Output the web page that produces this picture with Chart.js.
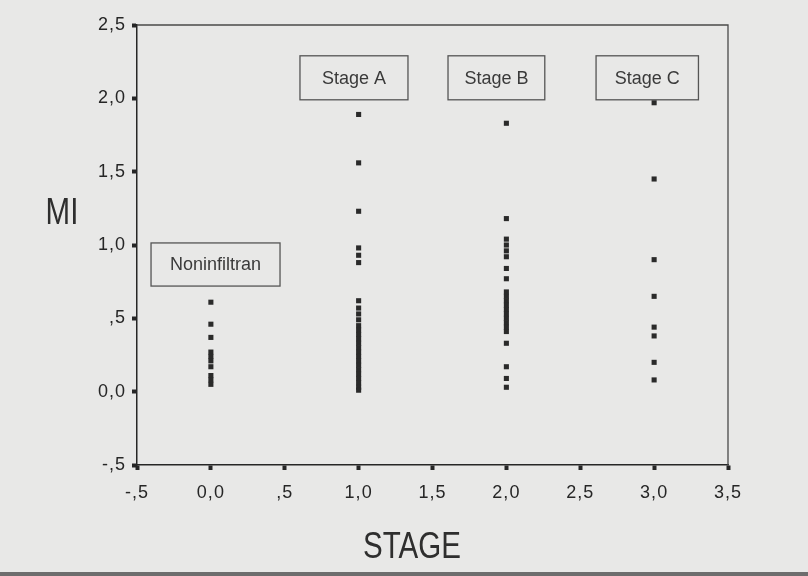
<!DOCTYPE html>
<html>
<head>
<meta charset="utf-8">
<script src="https://cdn.jsdelivr.net/npm/chart.js@4.4.1/dist/chart.umd.min.js"></script>
<style>
  html, body { margin: 0; padding: 0; background: #e8e8e7; }
  #wrap { position: relative; width: 808px; height: 576px; overflow: hidden; }
  #edge { position: absolute; left: 0; right: 0; bottom: 0; height: 4px; background: #6d6d6d; }
</style>
</head>
<body>
<div id="wrap">
<canvas id="c" width="808" height="576"></canvas>
<div id="edge"></div>
</div>
<script>
// ---- data ----
const stageNames = ['Noninfiltran', 'Stage A', 'Stage B', 'Stage C'];
const stageX = [0, 1, 2, 3];
const miNoninfiltran = [0.61, 0.46, 0.37, 0.27, 0.24, 0.21, 0.17, 0.11, 0.08, 0.05];
const miStageA = [1.89, 1.56, 1.23, 0.98, 0.93, 0.88, 0.62, 0.57, 0.53, 0.49, 0.45, 0.42, 0.39,
                  0.36, 0.33, 0.30, 0.27, 0.24, 0.21, 0.18, 0.15, 0.12, 0.09, 0.06, 0.03, 0.01];
const miStageB = [1.83, 1.18, 1.04, 1.00, 0.96, 0.92, 0.84, 0.77, 0.68, 0.65, 0.62, 0.59, 0.56,
                  0.53, 0.50, 0.47, 0.44, 0.41, 0.33, 0.17, 0.09, 0.03];
const miStageC = [1.97, 1.45, 0.90, 0.65, 0.44, 0.38, 0.20, 0.08];
const xTickLabels = ['-,5', '0,0', ',5', '1,0', '1,5', '2,0', '2,5', '3,0', '3,5'];
const yTickLabels = ['-,5', '0,0', ',5', '1,0', '1,5', '2,0', '2,5'];
const xTitle = 'STAGE';
const yTitle = 'MI';

// label boxes (data coordinates: x1, x2, yTop, yBottom)
const labelBoxes = [
  { text: stageNames[0], x1: -0.405, x2: 0.468, y1: 1.014, y2: 0.72 },
  { text: stageNames[1], x1: 0.603, x2: 1.334, y1: 2.29, y2: 1.99 },
  { text: stageNames[2], x1: 1.605, x2: 2.26, y1: 2.29, y2: 1.99 },
  { text: stageNames[3], x1: 2.607, x2: 3.30, y1: 2.29, y2: 1.99 }
];

const seriesValues = [miNoninfiltran, miStageA, miStageB, miStageC];
const points = [];
seriesValues.forEach((vals, i) => vals.forEach(v => points.push({ x: stageX[i], y: v })));

const ink = '#262626';
const tickFont = { family: "'Liberation Sans', Arial, sans-serif", size: 18 };

function narrowText(ctx, text, x, y, sx) {
  ctx.save();
  ctx.translate(x, y);
  ctx.scale(sx, 1);
  ctx.fillText(text, 0, 0);
  ctx.restore();
}

const decor = {
  id: 'decor',
  beforeDraw(chart) {
    const ctx = chart.ctx;
    ctx.save();
    ctx.fillStyle = '#e8e8e7';
    ctx.fillRect(0, 0, chart.width, chart.height);
    ctx.restore();
    if ('letterSpacing' in ctx) ctx.letterSpacing = '1px';
  },
  afterDraw(chart) {
    const ctx = chart.ctx;
    if ('letterSpacing' in ctx) ctx.letterSpacing = '0px';
    const xs = chart.scales.x, ys = chart.scales.y;
    const a = chart.chartArea;
    ctx.save();
    // frame top/right
    ctx.strokeStyle = '#4a4a4a';
    ctx.lineWidth = 1.3;
    ctx.beginPath();
    ctx.moveTo(a.left, a.top); ctx.lineTo(a.right, a.top); ctx.lineTo(a.right, a.bottom);
    ctx.stroke();
    // label boxes
    ctx.font = "18px 'Liberation Sans', Arial, sans-serif";
    ctx.textAlign = 'center';
    ctx.textBaseline = 'middle';
    labelBoxes.forEach(b => {
      const x1 = xs.getPixelForValue(b.x1), x2 = xs.getPixelForValue(b.x2);
      const y1 = ys.getPixelForValue(b.y1), y2 = ys.getPixelForValue(b.y2);
      ctx.strokeStyle = '#555';
      ctx.lineWidth = 1.3;
      ctx.strokeRect(x1, y1, x2 - x1, y2 - y1);
      ctx.fillStyle = '#3a3a3a';
      ctx.fillText(b.text, (x1 + x2) / 2, (y1 + y2) / 2 + 1);
    });
    // axis titles (condensed look)
    ctx.fillStyle = '#2e2e2e';
    ctx.font = "36px 'Liberation Sans', Arial, sans-serif";
    narrowText(ctx, yTitle, 62, 214, 0.82);
    narrowText(ctx, xTitle, 412, 548, 0.82);
    ctx.restore();
  }
};

new Chart(document.getElementById('c'), {
  type: 'scatter',
  data: {
    datasets: [{
      data: points,
      pointStyle: 'rect',
      pointRadius: 3.6,
      pointHoverRadius: 3.6,
      backgroundColor: '#2a2a2a',
      borderColor: '#2a2a2a',
      borderWidth: 0
    }]
  },
  options: {
    responsive: false,
    animation: false,
    devicePixelRatio: 1,
    layout: { padding: { left: 0, top: 25, right: 80, bottom: 0 } },
    plugins: { legend: { display: false }, tooltip: { enabled: false } },
    scales: {
      x: {
        type: 'linear', min: -0.5, max: 3.5,
        afterFit(s) { s.height = 111; },
        ticks: {
          stepSize: 0.5, color: ink, font: tickFont, padding: 12,
          maxRotation: 0, autoSkip: false,
          callback: (v, i) => xTickLabels[i]
        },
        grid: { display: true, drawOnChartArea: false, drawTicks: true, tickLength: 5, tickWidth: 4, tickColor: ink },
        border: { display: true, color: ink, width: 1.5 }
      },
      y: {
        type: 'linear', min: -0.5, max: 2.5,
        afterFit(s) { s.width = 137; },
        ticks: {
          stepSize: 0.5, color: ink, font: tickFont, padding: 6,
          autoSkip: false,
          callback: (v, i) => yTickLabels[i]
        },
        grid: { display: true, drawOnChartArea: false, drawTicks: true, tickLength: 5, tickWidth: 4, tickColor: ink },
        border: { display: true, color: ink, width: 1.5 }
      }
    }
  },
  plugins: [decor]
});
</script>
</body>
</html>
